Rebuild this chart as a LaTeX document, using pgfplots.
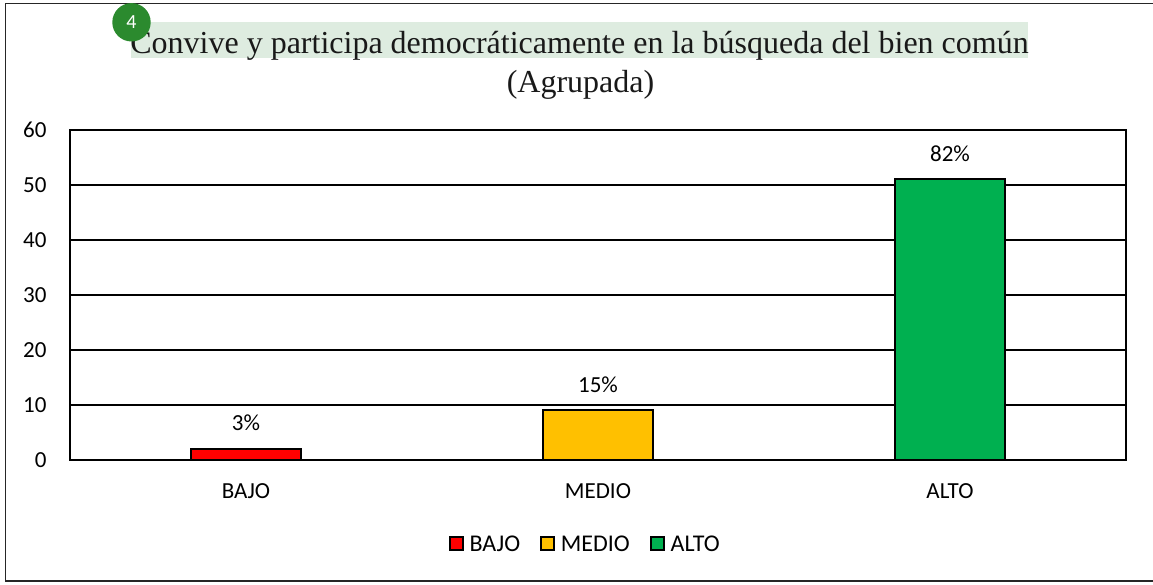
\documentclass[border=0pt]{standalone}
\usepackage{pgfplots}
\usepackage{fontspec}
\pgfplotsset{compat=1.18}
\setmainfont{Carlito}
\newfontfamily\titlefont{Liberation Serif}
\definecolor{cbajo}{HTML}{FF0000}
\definecolor{cmedio}{HTML}{FFC000}
\definecolor{calto}{HTML}{00B050}
\definecolor{hl}{HTML}{DEECE0}
\definecolor{badge}{HTML}{2B8A2E}
\begin{document}
\begin{tikzpicture}
\useasboundingbox (0pt,0pt) rectangle (1153pt,585pt);
\draw[line width=1.2pt,black!85] (5.5pt,4pt) rectangle (1153.5pt,581.5pt);
\fill[hl] (131pt,527pt) rectangle (1028pt,563pt);
\node[font=\titlefont\fontsize{32}{36}\selectfont,anchor=base,text=black!90] at (579.5pt,531.5pt) {Convive y participa democráticamente en la búsqueda del bien común};
\node[font=\titlefont\fontsize{32}{36}\selectfont,anchor=base,text=black!90] at (580.5pt,492pt) {(Agrupada)};
\fill[badge] (131.5pt,562.7pt) circle (19.2pt);
\node[font=\fontsize{20}{22}\selectfont,text=white] at (131.5pt,562.7pt) {4};
\begin{axis}[
  at={(70pt,125pt)},anchor=south west,
  scale only axis,width=1056pt,height=330pt,
  xmin=-0.5,xmax=2.5,ymin=0,ymax=60,
  xtick={0,1,2},xticklabels={BAJO,MEDIO,ALTO},
  ytick={0,10,20,30,40,50,60},
  xtick style={draw=none},ytick style={draw=none},
  axis line style={black,line width=1.5pt},
  ymajorgrids,grid style={black,line width=1.5pt},
  tick label style={font=\fontsize{23}{25}\selectfont,text=black},
  /pgf/number format/assume math mode=true,
  xticklabel style={yshift=-16pt},
  yticklabel style={xshift=-20pt},
  ybar,bar width=110pt,bar shift=0pt,
  point meta=explicit symbolic,
  nodes near coords,
  every node near coord/.append style={font=\fontsize{23}{25}\selectfont,text=black,anchor=south,yshift=13.5pt},
  legend columns=3,
  legend style={at={(0.488,-0.223)},anchor=north,draw=none,fill=none,font=\fontsize{24}{26}\selectfont,
    /tikz/every even column/.append style={column sep=18pt},
    /tikz/every odd column/.append style={column sep=4pt},inner sep=0pt},
  legend image code/.code={\draw[#1,draw=black,line width=1.8pt] (0pt,-6pt) rectangle (13pt,7pt);},
]
\addplot[draw=black,line width=2pt,fill=cbajo] coordinates {(0,2) [3\%]};
\addplot[draw=black,line width=2pt,fill=cmedio] coordinates {(1,9) [15\%]};
\addplot[draw=black,line width=2pt,fill=calto] coordinates {(2,51) [82\%]};
\legend{BAJO,MEDIO,ALTO}
\end{axis}
\end{tikzpicture}
\end{document}
